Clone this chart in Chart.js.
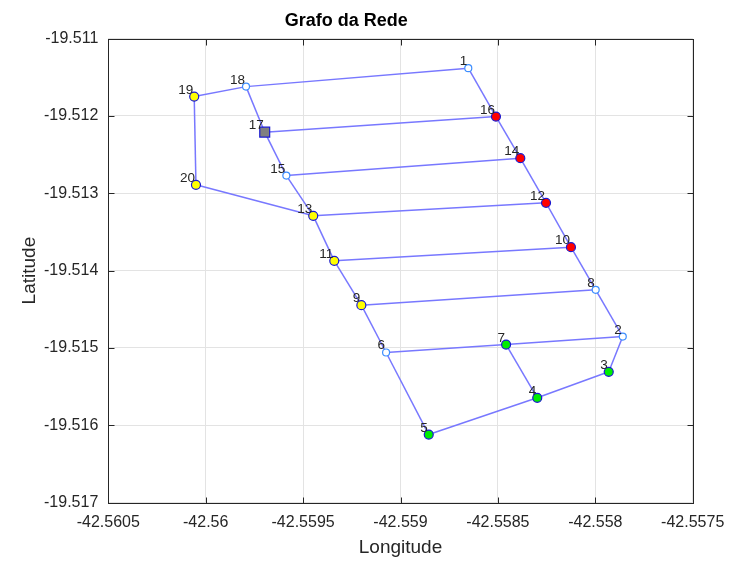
<!DOCTYPE html>
<html>
<head>
<meta charset="utf-8">
<title>Grafo da Rede</title>
<script src="https://cdn.jsdelivr.net/npm/chart.js@4.4.1/dist/chart.umd.min.js"></script>
<style>
  body { margin: 0; background: #fff; }
  canvas { display: block; }
</style>
</head>
<body>
<canvas id="grafo" width="729" height="561"></canvas>
<script>
// nodes of the network (id, longitude, latitude, kind)
const nodeIds = [1, 2, 3, 4, 5, 6, 7, 8, 9, 10, 11, 12, 13, 14, 15, 16, 17, 18, 19, 20];
const nodeLon = [-42.558652, -42.557859, -42.557931, -42.558298, -42.558855, -42.559074, -42.558458, -42.557998, -42.559201, -42.558125,
                 -42.559340, -42.558253, -42.559448, -42.558385, -42.559586, -42.558510, -42.559697, -42.559793, -42.560059, -42.560050];
const nodeLat = [-19.511383, -19.514853, -19.515309, -19.515645, -19.516120, -19.515059, -19.514956, -19.514249, -19.514447, -19.513697,
                 -19.513874, -19.513124, -19.513292, -19.512546, -19.512771, -19.512008, -19.512210, -19.511621, -19.511750, -19.512891];
const nodeKind = ['open', 'open', 'green', 'green', 'green', 'open', 'green', 'open', 'yellow', 'red',
                  'yellow', 'red', 'yellow', 'red', 'open', 'red', 'square', 'open', 'yellow', 'yellow'];

// links between nodes
const edges = [
  [1, 18], [18, 19], [19, 20], [20, 13], [18, 17], [17, 15], [15, 13], [13, 11], [11, 9], [9, 6],
  [6, 5], [5, 4], [4, 3], [3, 2], [2, 8], [8, 10], [10, 12], [12, 14], [14, 16], [16, 1],
  [17, 16], [15, 14], [13, 12], [11, 10], [9, 8], [6, 7], [7, 2], [7, 4]
];

const xTicks = [-42.5605, -42.56, -42.5595, -42.559, -42.5585, -42.558, -42.5575];
const yTicks = [-19.517, -19.516, -19.515, -19.514, -19.513, -19.512, -19.511];

const FONT = "'Liberation Sans', Arial, Helvetica, sans-serif";
const TEXT = '#262626';

const fillFor = { open: '#ffffff', green: '#00ee00', yellow: '#ffff00', red: '#ff0000', square: '#808080' };
const edgeFor = { open: '#3d8eff', green: '#1a1ad0', yellow: '#1a1ad0', red: '#1a1ad0', square: '#1a1ad0' };
const radiusFor = { open: 3.5, green: 4.5, yellow: 4.5, red: 4.5, square: 7 };

Chart.defaults.font.family = FONT;
Chart.defaults.color = TEXT;

const idx = id => nodeIds.indexOf(id);

// one dataset per link
const edgeSets = edges.map(([a, b]) => ({
  type: 'scatter',
  data: [{ x: nodeLon[idx(a)], y: nodeLat[idx(a)] }, { x: nodeLon[idx(b)], y: nodeLat[idx(b)] }],
  showLine: true,
  borderColor: '#7878ff',
  borderWidth: 1.5,
  pointRadius: 0,
  order: 2
}));

const nodeSet = {
  type: 'scatter',
  data: nodeIds.map((id, i) => ({ x: nodeLon[i], y: nodeLat[i] })),
  pointStyle: nodeKind.map(k => k === 'square' ? 'rect' : 'circle'),
  pointRadius: nodeKind.map(k => radiusFor[k]),
  pointBackgroundColor: nodeKind.map(k => fillFor[k]),
  pointBorderColor: nodeKind.map(k => edgeFor[k]),
  pointBorderWidth: 1.2,
  showLine: false,
  order: 0
};

// box + inward ticks like the original figure
const boxPlugin = {
  id: 'box',
  afterDatasetsDraw(chart) {
    const { ctx, scales } = chart;
    const snap = v => Math.round(v) + 0.5;
    const L = snap(scales.x.getPixelForValue(xTicks[0]));
    const R = snap(scales.x.getPixelForValue(xTicks[xTicks.length - 1]));
    const B = snap(scales.y.getPixelForValue(yTicks[0]));
    const T = snap(scales.y.getPixelForValue(yTicks[yTicks.length - 1]));
    ctx.save();
    ctx.strokeStyle = TEXT;
    ctx.lineWidth = 1;
    ctx.strokeRect(L, T, R - L, B - T);
    ctx.beginPath();
    xTicks.forEach(v => {
      const px = snap(scales.x.getPixelForValue(v));
      ctx.moveTo(px, B); ctx.lineTo(px, B - 6);
      ctx.moveTo(px, T); ctx.lineTo(px, T + 6);
    });
    yTicks.forEach(v => {
      const py = snap(scales.y.getPixelForValue(v));
      ctx.moveTo(L, py); ctx.lineTo(L + 6, py);
      ctx.moveTo(R, py); ctx.lineTo(R - 6, py);
    });
    ctx.stroke();

    // node numbers
    ctx.font = '13.5px ' + FONT;
    ctx.fillStyle = TEXT;
    ctx.textAlign = 'right';
    ctx.textBaseline = 'alphabetic';
    nodeIds.forEach((id, i) => {
      const px = scales.x.getPixelForValue(nodeLon[i]);
      const py = scales.y.getPixelForValue(nodeLat[i]);
      ctx.fillText(String(id), px - 1, py - 3);
    });
    ctx.restore();
  }
};

new Chart(document.getElementById('grafo'), {
  type: 'scatter',
  data: { datasets: [nodeSet, ...edgeSets] },
  options: {
    responsive: false,
    animation: false,
    events: [],
    layout: { padding: { left: 0, right: 36.3, top: 0, bottom: 0 } },
    plugins: {
      legend: { display: false },
      tooltip: { enabled: false },
      title: {
        display: true,
        text: 'Grafo da Rede',
        color: '#000',
        font: { size: 18, weight: 'bold' },
        padding: { top: 10, bottom: 7 }
      }
    },
    scales: {
      x: {
        type: 'linear',
        min: -42.5605,
        max: -42.5575,
        afterBuildTicks: s => { s.ticks = xTicks.map(v => ({ value: v })); },
        afterFit: s => { s.height = 58.4; s.paddingLeft = 0; s.paddingRight = 0; },
        ticks: { font: { size: 16 }, color: TEXT, padding: 10, maxRotation: 0, callback: v => String(v) },
        grid: { color: '#e3e3e3', drawTicks: false },
        border: { display: false },
        title: { display: true, text: 'Longitude', font: { size: 19 }, color: TEXT, padding: { top: 0, bottom: 2 } }
      },
      y: {
        type: 'linear',
        min: -19.517,
        max: -19.511,
        afterBuildTicks: s => { s.ticks = yTicks.map(v => ({ value: v })); },
        afterFit: s => { s.width = 108.3; s.paddingTop = 0; s.paddingBottom = 0; },
        ticks: { font: { size: 16 }, color: TEXT, padding: 10, callback: v => String(v) },
        grid: { color: '#e3e3e3', drawTicks: false },
        border: { display: false },
        title: { display: true, text: 'Latitude', font: { size: 19 }, color: TEXT, padding: { top: 18, bottom: 0 } }
      }
    }
  },
  plugins: [boxPlugin]
});
</script>
</body>
</html>
